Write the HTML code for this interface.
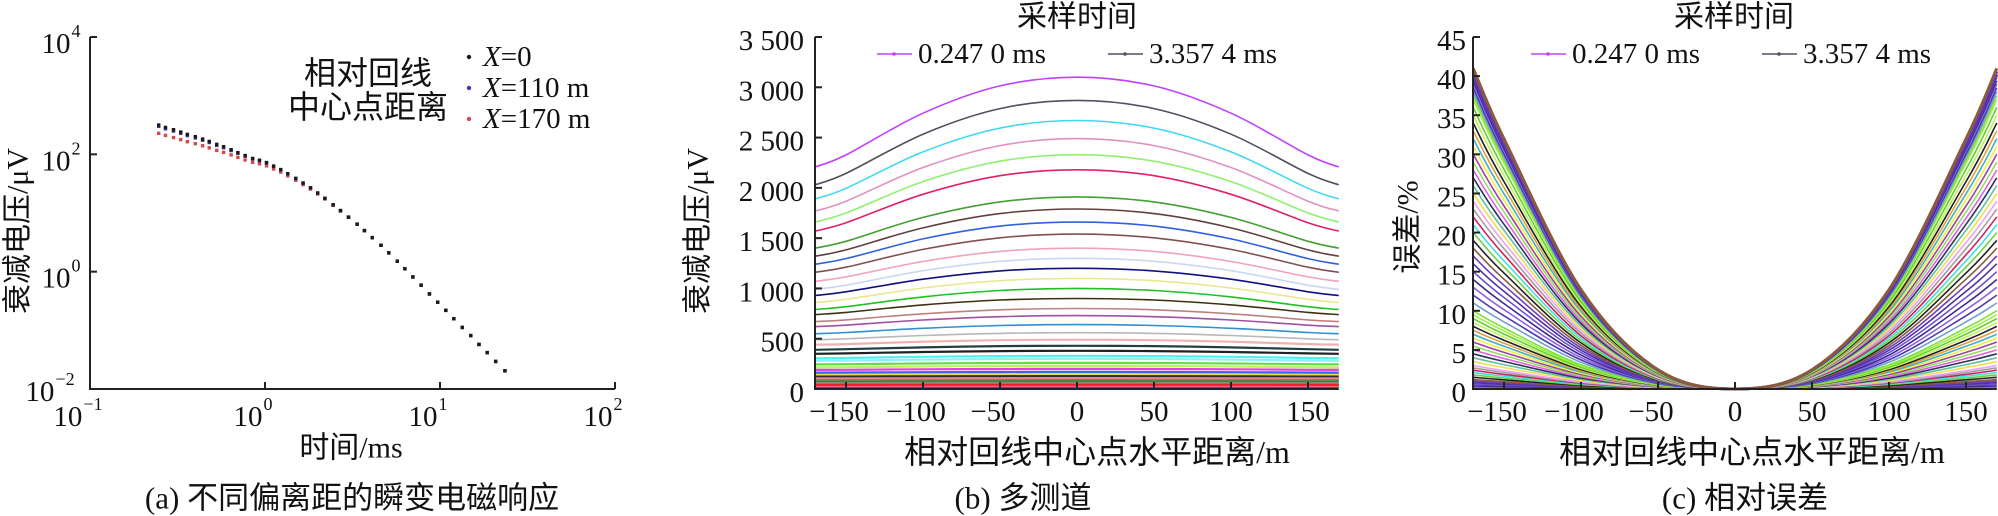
<!DOCTYPE html>
<html><head><meta charset="utf-8">
<style>
html,body{margin:0;padding:0;background:#fff;}
svg{display:block;}
text{font-family:"Liberation Serif","Noto Sans CJK SC",serif;fill:#111;}
.cjk{font-family:"Liberation Serif","Noto Sans CJK SC",sans-serif;}
</style></head>
<body>
<svg id="fig" width="1998" height="516" viewBox="0 0 1998 516" xmlns="http://www.w3.org/2000/svg">
<g id="pa"></g>
<g id="pb"></g>
<g id="pc"></g>
</svg>
<script>
// ---------- Panel (a) data ----------
const aTimes=[0.247,0.27,0.30,0.33,0.36,0.40,0.44,0.48,0.53,0.58,0.64,0.70,0.77,0.85,0.93,1.02,1.12,1.23,1.35,1.5,1.65,1.82,2.0,2.2,2.45,2.7,3.0,3.36,3.7,4.1,4.6,5.1,5.7,6.3,7.0,7.8,8.7,9.7,10.8,12.0,13.4,15.0,16.7,18.6,20.8,23.5];
const aX0=[316,288,263,240,219,200,182,166,148,135,120,107,95.5,85.1,79.4,72.4,63.1,55.0,46.8,38.9,32.4,26.9,21.9,17.8,13.8,11.0,8.51,6.46,5.01,3.80,2.82,2.09,1.51,1.12,0.813,0.589,0.417,0.302,0.219,0.158,0.112,0.0813,0.0575,0.0417,0.0295,0.0204];
const aX110=[300,272,249,228,208,190,174,159,142,130,116,104,93,83.3,77.9,71.2,62.3,54.4,46.4,38.7,32.3,26.9,21.9,17.8,13.8,11.0,8.51,6.46,5.01,3.80,2.82,2.09,1.51,1.12,0.813,0.589,0.417,0.302,0.219,0.158,0.112,0.0813,0.0575,0.0417,0.0295,0.0204];
const aX170=[228,210,193,178,164,152,140,129,117,108,97.7,88.6,80.2,73.0,69.0,63.7,56.4,49.8,42.9,36.1,30.4,25.6,21.1,17.3,13.5,10.8,8.45,6.44,5.01,3.80,2.82,2.09,1.51,1.12,0.813,0.589,0.417,0.302,0.219,0.158,0.112,0.0813,0.0575,0.0417,0.0295,0.0204];
const aXTickExp=[-1,0,1,2];
const aYTickExp=[4,2,0,-2];
const aLegend=["0","110 m","170 m"];

// ---------- Panel (b) data ----------
const bXs=[0,50,100,150,170];
const bShape=[0,0.097,0.40,0.865,1];
const bCenter=[3100,2870,2670,2490,2330,2180,1910,1790,1660,1540,1400,1300,1200,1100,1000,900,800,730,640,560,490,430,380,330,300,260,230,200,170,150,130,110,95,80,65,50,40,30,20];
const bEdge=[2207,2030,1890,1770,1660,1570,1400,1320,1240,1160,1070,990,930,860,790,740,670,620,550,490,440,390,350,305,280,245,215,190,163,145,126,107,93,78,64,49,40,30,20];
const bXTicks=[-150,-100,-50,0,50,100,150];
const bYTicks=[0,500,1000,1500,2000,2500,3000,3500];
const bYTickLabels=["0","500","1 000","1 500","2 000","2 500","3 000","3 500"];

// ---------- Panel (c) data ----------
const cXs=[0,50,100,150,170];
const cShape=[0,0.06,0.31,0.78,1];
const cEdge=[41,40.6,40.2,39.8,39.4,39,38.5,38,37.5,37,36,35,34,33,32,31,30,29,28,27,26,25,24,23,22,21,20,19,18,17,16,15,14,13,12,11,10,9.5,9,8.5,8,7.5,7,6.5,6,5.5,5,4.5,4,3.5,3,2.7,2.4,2.1,1.8,1.5,1.2,1.0,0.8,0.6,0.4,0.2];
const cXTicks=[-150,-100,-50,0,50,100,150];
const cYTicks=[0,5,10,15,20,25,30,35,40,45];

const palette=["#c040ff","#505060","#40d8f0","#e090c0","#90f070","#e0206a","#40a030","#604040","#3060e0","#805050","#f0a0c0","#c8d8f0","#101080","#e8e890","#20c020","#403010","#c08080","#a050a0","#3090d0","#b8b8b8","#f0b0b0","#204040","#202020","#50f0f0","#90f0f0","#60e040","#c0f060","#e040e0","#4060f0","#e0e040","#303030","#f080a0","#40a040","#806040","#909090","#f02020","#e83030","#f070a0","#e01010"];
const cPalette=["#8a5a3a","#6a40c0","#5030a0","#7050d0","#3a2a90","#9060e0","#4a3ab0","#70a0d0","#80e040","#a0f040","#60d030","#c0f060","#202020","#e0a040","#40b0c0","#f0f040","#a040a0","#90e060","#e060e0","#303060","#60c0a0","#f0e050","#f0a0f0","#a0a0a0","#d02060","#40e0e0","#70d040","#202020"];

const NS="http://www.w3.org/2000/svg";
function el(parent,tag,attrs){const e=document.createElementNS(NS,tag);for(const k in attrs)e.setAttribute(k,attrs[k]);parent.appendChild(e);return e;}
function txt(parent,x,y,s,size,anchor,extra){const t=el(parent,"text",Object.assign({x:x,y:y,"font-size":size,"text-anchor":anchor||"middle","dominant-baseline":"central"},extra||{}));t.textContent=s;return t;}
function smoothPath(pts){let d="M"+pts[0][0].toFixed(1)+","+pts[0][1].toFixed(1);for(let i=0;i<pts.length-1;i++){const p0=pts[Math.max(0,i-1)],p1=pts[i],p2=pts[i+1],p3=pts[Math.min(pts.length-1,i+2)];const c1=[p1[0]+(p2[0]-p0[0])/6,p1[1]+(p2[1]-p0[1])/6],c2=[p2[0]-(p3[0]-p1[0])/6,p2[1]-(p3[1]-p1[1])/6];d+=" C"+c1[0].toFixed(1)+","+c1[1].toFixed(1)+" "+c2[0].toFixed(1)+","+c2[1].toFixed(1)+" "+p2[0].toFixed(1)+","+p2[1].toFixed(1);}return d;}

// ================= Panel A =================
(function(){
const g=document.getElementById("pa");
const L=90,B=389,T=37,R=615;
const xa=t=>L+(Math.log10(t)+1)*175;
const ya=v=>B-(Math.log10(v)+2)*(B-T)/6;
let ax=el(g,"path",{d:`M${L},${T} L${L},${B} L${R},${B}`,fill:"none",stroke:"#222","stroke-width":2});


aXTickExp.forEach(e=>{const x=L+(e+1)*175;
 let tk=el(g,"line",{x1:x,y1:B,x2:x,y2:B-7,stroke:"#222","stroke-width":2});
 
 let t=txt(g,x-12,417,"10",29,"middle");
 
 const s=el(t,"tspan",{"font-size":18,dy:-13,dx:1});s.textContent=(e<0?"\u2212":"")+Math.abs(e);
});
aYTickExp.forEach(e=>{const y=ya(Math.pow(10,e));
 let tk=el(g,"line",{x1:L,y1:y,x2:L+7,y2:y,stroke:"#222","stroke-width":2});
 
 let t=txt(g,e<0?50:61,y+(e<0?3:7),"10",29,"middle");
 
 const s=el(t,"tspan",{"font-size":18,dy:-13,dx:1});s.textContent=(e<0?"\u2212":"")+Math.abs(e);
});
const series=[[aX170,"#d84848"],[aX110,"#3a3aa8"],[aX0,"#1a1a1a"]];
series.forEach(([vals,col],si)=>{
 vals.forEach((v,i)=>{const r=el(g,"rect",{x:xa(aTimes[i])-1.7,y:ya(v)-1.7,width:3.4,height:3.4,fill:col});
  });
});
let yl=txt(g,18,231,"衰减电压/μV",30,"middle",{transform:"rotate(-90 18 231)",class:"cjk"});

let xl=txt(g,351,448,"时间/ms",30,"middle",{class:"cjk"});

let lt1=txt(g,368,73,"相对回线",32,"middle",{class:"cjk"});

let lt2=txt(g,368,107,"中心点距离",32,"middle",{class:"cjk"});

const lcols=["#1a1a1a","#3a3aa8","#d84848"],ly=[57,88,119];
aLegend.forEach((s,i)=>{
 const c=el(g,"circle",{cx:469,cy:ly[i],r:2.2,fill:lcols[i]});
 
 const t=txt(g,483,ly[i],"",29,"start");
 
 const a=el(t,"tspan",{"font-style":"italic"});a.textContent="X";
 const b=el(t,"tspan",{});b.textContent="="+s;
});
let cap=txt(g,352,498,"(a)  不同偏离距的瞬变电磁响应",31,"middle",{class:"cjk"});

})();

// ================= Panel B =================
(function(){
const g=document.getElementById("pb");
const L=815,B=389,T=37,X0=1077,K=1.54;
const xb=x=>X0+x*K;
const yb=v=>B-v*(B-T)/3500;
for(let k=bCenter.length-1;k>=0;k--){
 const half=bXs.map((x,i)=>bCenter[k]-(bCenter[k]-bEdge[k])*bShape[i]);
 const pts=[];
 for(let i=bXs.length-1;i>0;i--)pts.push([xb(-bXs[i]),yb(half[i])]);
 for(let i=0;i<bXs.length;i++)pts.push([xb(bXs[i]),yb(half[i])]);
 const p=el(g,"path",{d:smoothPath(pts),fill:"none",stroke:palette[k%palette.length],"stroke-width":k<20?1.6:2.2});
 
}
let ax=el(g,"path",{d:`M${L},${T} L${L},${B} L${xb(170)},${B}`,fill:"none",stroke:"#222","stroke-width":2});

bXTicks.forEach(v=>{const x=xb(v);
 const t=el(g,"line",{x1:x,y1:B,x2:x,y2:B-7,stroke:"#222","stroke-width":2});
 
 const l=txt(g,x-(v<0?7:0),412,(v<0?"\u2212":"")+Math.abs(v),29,"middle");
 
});
bYTicks.forEach((v,i)=>{const y=yb(v);
 const t=el(g,"line",{x1:L,y1:y,x2:L+7,y2:y,stroke:"#222","stroke-width":2});
 
 const l=txt(g,804,y+4,bYTickLabels[i],29,"end");
 
});
let yl=txt(g,698,231,"衰减电压/μV",30,"middle",{transform:"rotate(-90 698 231)",class:"cjk"});

let xl=txt(g,1097,452,"相对回线中心点水平距离/m",32,"middle",{class:"cjk"});

let lt=txt(g,1077,17,"采样时间",30,"middle",{class:"cjk"});

[[877,"#c040ff","0.247 0 ms"],[1108,"#505060","3.357 4 ms"]].forEach(([x,c,s])=>{
 const ln=el(g,"line",{x1:x,y1:54,x2:x+35,y2:54,stroke:c,"stroke-width":1.5});
 
 const d=el(g,"circle",{cx:x+17,cy:54,r:1.8,fill:c});
 
 const t=txt(g,x+41,54,s,29,"start");
 
});
let cap=txt(g,1023,498,"(b)  多测道",31,"middle",{class:"cjk"});

})();

// ================= Panel C =================
(function(){
const g=document.getElementById("pc");
const L=1473,B=389,T=37,X0=1735,K=1.54;
const xc=x=>X0+x*K;
const yc=v=>B-v*(B-T)/45;
for(let k=cEdge.length-1;k>=0;k--){
 const half=cXs.map((x,i)=>cEdge[k]*cShape[i]);
 const pts=[];
 for(let i=cXs.length-1;i>0;i--)pts.push([xc(-cXs[i]),yc(half[i])]);
 for(let i=0;i<cXs.length;i++)pts.push([xc(cXs[i]),yc(half[i])]);
 const p=el(g,"path",{d:smoothPath(pts),fill:"none",stroke:cPalette[k%cPalette.length],"stroke-width":k<3?3:1.6});
 
}
let ax=el(g,"path",{d:`M${L},${T} L${L},${B} L${xc(170)},${B}`,fill:"none",stroke:"#222","stroke-width":2});

cXTicks.forEach(v=>{const x=xc(v);
 const t=el(g,"line",{x1:x,y1:B,x2:x,y2:B-7,stroke:"#222","stroke-width":2});
 
 const l=txt(g,x-(v<0?7:0),412,(v<0?"\u2212":"")+Math.abs(v),29,"middle");
 
});
cYTicks.forEach(v=>{const y=yc(v);
 const t=el(g,"line",{x1:L,y1:y,x2:L+7,y2:y,stroke:"#222","stroke-width":2});
 
 const l=txt(g,1466,y+4,String(v),29,"end");
 
});
let yl=txt(g,1408,227,"误差/%",30,"middle",{transform:"rotate(-90 1408 227)",class:"cjk"});

let xl=txt(g,1752,452,"相对回线中心点水平距离/m",32,"middle",{class:"cjk"});

let lt=txt(g,1734,17,"采样时间",30,"middle",{class:"cjk"});

[[1531,"#c040ff","0.247 0 ms"],[1762,"#505060","3.357 4 ms"]].forEach(([x,c,s])=>{
 const ln=el(g,"line",{x1:x,y1:54,x2:x+35,y2:54,stroke:c,"stroke-width":1.5});
 
 const d=el(g,"circle",{cx:x+17,cy:54,r:1.8,fill:c});
 
 const t=txt(g,x+41,54,s,29,"start");
 
});
let cap=txt(g,1745,498,"(c)  相对误差",31,"middle",{class:"cjk"});

})();
</script>
</body></html>
